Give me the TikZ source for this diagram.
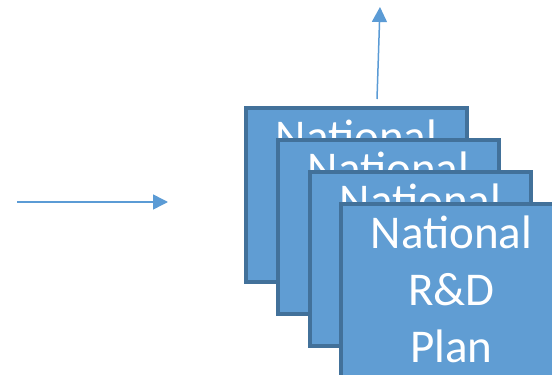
\documentclass[tikz,border=0pt]{standalone}
\usepackage{fontspec}
\setmainfont{Carlito}
\usetikzlibrary{arrows.meta}
\definecolor{boxfill}{RGB}{96,157,211}
\definecolor{boxline}{RGB}{66,113,154}
\definecolor{arrowblue}{RGB}{91,155,213}
\tikzset{
  planbox/.style={draw=boxline, fill=boxfill, line width=4pt, minimum width=221pt, minimum height=174pt, inner sep=0pt, anchor=north west},
  plantext/.style={text=white, align=center, inner sep=0pt, anchor=north, font=\fontsize{47}{57}\selectfont},
  flow/.style={draw=arrowblue, line width=1.5pt, -{Triangle[length=15pt,width=15pt]}}
}
\begin{document}
\begin{tikzpicture}[x=1pt,y=-1pt]
\useasboundingbox (0,0) rectangle (552,375);
\clip (0,0) rectangle (552,375);
\node[planbox] (p1) at (244,106) {};
\node[plantext] (t1) at ([yshift=-14pt]p1.north) {National};
\node[planbox] (p2) at (276,138) {};
\node[plantext] (t2) at ([yshift=-14pt]p2.north) {National};
\node[planbox] (p3) at (308,170) {};
\node[plantext] (t3) at ([yshift=-14pt]p3.north) {National};
\node[planbox] (p4) at (339,202) {};
\node[plantext] (t4) at ([yshift=-14pt]p4.north) {National\\R\&D\\Plan};
\coordinate (inS) at (17,202);
\coordinate (inE) at (168,202);
\draw[flow] (inS) -- (inE);
\coordinate (outS) at (377,99);
\coordinate (outE) at (380,7);
\draw[flow] (outS) -- (outE);
\end{tikzpicture}
\end{document}
